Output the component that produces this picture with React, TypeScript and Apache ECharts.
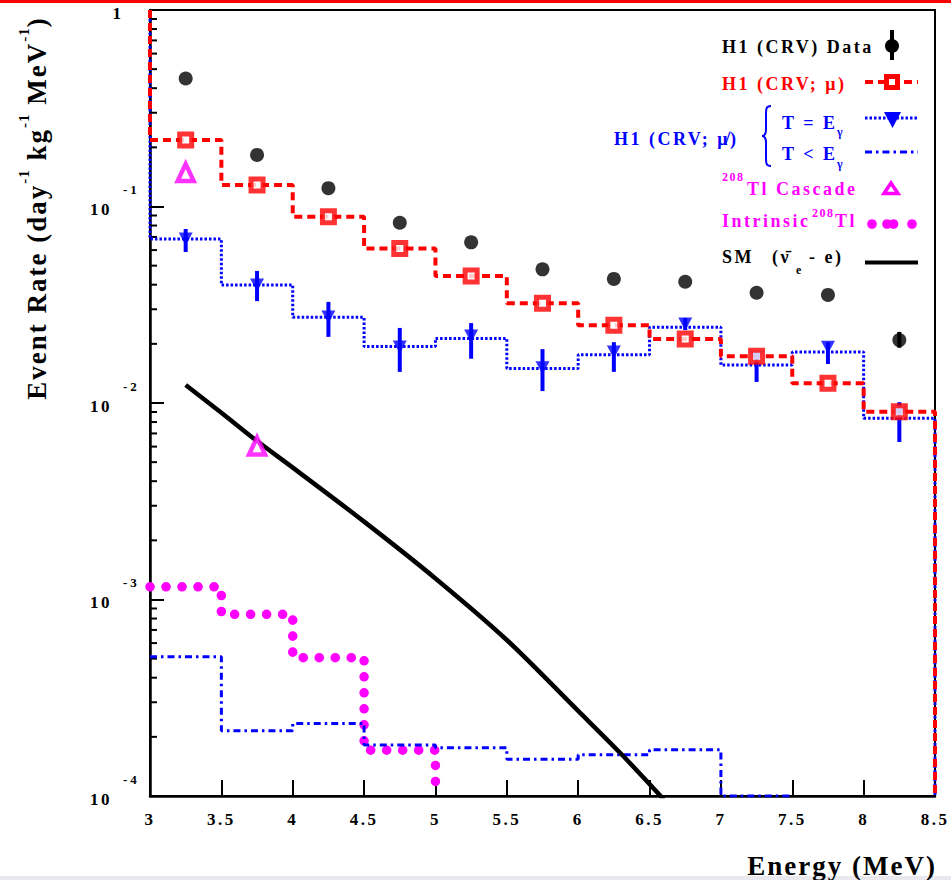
import React, { useEffect, useRef } from 'react';
import * as echarts from 'echarts';

const SERIF = '"Liberation Serif", "Times New Roman", serif';
const YMIN = 1e-4;
const YMAX = 1;

// bins (MeV)
const BIN_EDGES = [3, 3.5, 4, 4.5, 5, 5.5, 6, 6.5, 7, 7.5, 8, 8.5];
const BIN_CENTERS = [3.25, 3.75, 4.25, 4.75, 5.25, 5.75, 6.25, 6.75, 7.25, 7.75, 8.25];

// H1 (CRV) Data
const DATA_VALS = [0.448, 0.183, 0.124, 0.0827, 0.0657, 0.0479, 0.0428, 0.0414, 0.0364, 0.0355, 0.0209];
const DATA_ERR_E = [8.25];
const DATA_ERR_LO = [0.0191];
const DATA_ERR_HI = [0.0230];

// H1 (CRV; mu) histogram
const MU_VALS = [0.218, 0.1287, 0.0887, 0.0611, 0.0443, 0.0322, 0.0249, 0.0212, 0.0173, 0.0126, 0.00903];

// H1 (CRV; not-mu), T = E_gamma
const TEQ_VALS = [0.0683, 0.0399, 0.0273, 0.0194, 0.0213, 0.015, 0.0176, 0.0243, 0.0156, 0.0182, 0.00836];
const TEQ_POINTS = [0.0683, 0.0399, 0.0274, 0.0193, 0.0219, 0.0151, 0.0182, 0.0252, 0.0171, 0.0192, 0.0089];
const TEQ_LO = [0.0587, 0.033, 0.0217, 0.0144, 0.0168, 0.0115, 0.0144, 0.0235, 0.0128, 0.0158, 0.00633];
const TEQ_HI = [0.0768, 0.047, 0.0327, 0.0241, 0.0255, 0.0188, 0.0204, 0.0271, 0.0182, 0.0204, 0.0101];

// H1 (CRV; not-mu), T < E_gamma (last bin at floor)
const TLT_VALS = [5.12e-4, 2.15e-4, 2.34e-4, 1.82e-4, 1.76e-4, 1.54e-4, 1.62e-4, 1.72e-4, 1e-4];

// Intrinsic 208Tl
const TL_INTR_VALS = [1.16e-3, 8.41e-4, 5.06e-4, 1.71e-4];

// 208Tl cascade
const CASCADE_E = [3.25, 3.75];
const CASCADE_VALS = [0.149, 0.00604];

// SM (nu_e - e)
const SM_E = [3.25, 3.5, 3.75, 4.0, 4.5, 5.0, 5.5, 6.0, 6.3, 6.6];
const SM_VALS = [0.01235, 0.00892, 0.0064, 0.00469, 0.00249, 0.00128, 6.22e-4, 2.71e-4, 1.64e-4, 9.6e-5];

// minor tick multipliers and decades
const MINOR_MULT = [2, 3, 4, 5, 6, 7, 8, 9];
const DECADES = [1e-4, 1e-3, 1e-2, 1e-1];

// letter spacing per font size (px)
const LS: Record<number, number> = { 27: 2, 15: 1, 17: 2.5, 13: 3, 18: 2.5, 12: 1.5 };
function lsFor(font: string) {
  const m = /(\d+(?:\.\d+)?)px/.exec(font || '');
  if (!m) return 0;
  return LS[Math.round(parseFloat(m[1]))] || 0;
}
let mctx: CanvasRenderingContext2D | null = null;
let measureSet = false;
function setupMeasure() {
  if (measureSet) return;
  measureSet = true;
  const api = (echarts as any).setPlatformAPI;
  if (!api) return;
  api({
    measureText(text: string, font?: string) {
      if (!mctx) mctx = document.createElement('canvas').getContext('2d');
      const f = font || '12px sans-serif';
      mctx!.font = f;
      return { width: mctx!.measureText(text).width + lsFor(f) * text.length };
    },
  });
}

try {
  echarts.graphic.registerShape(
    'brace',
    (echarts.graphic as any).extendPath(
      'M9,0 C4,0 4,3 4,8 L4,23 C4,28 2,30 0,30 C2,30 4,32 4,37 L4,52 C4,57 4,60 9,60',
      {}
    )
  );
} catch (e) {
  /* ignore */
}

function stairs(vals: number[], fromTop: boolean, toFloor: boolean) {
  const pts: number[][] = [];
  if (fromTop) pts.push([BIN_EDGES[0], YMAX]);
  vals.forEach((v, i) => {
    pts.push([BIN_EDGES[i], v]);
    pts.push([BIN_EDGES[i + 1], v]);
  });
  if (toFloor) pts.push([BIN_EDGES[vals.length], YMIN]);
  return pts;
}

function errRender(color: string) {
  return (params: any, api: any) => {
    const a = api.coord([api.value(0), api.value(1)]);
    const b = api.coord([api.value(0), api.value(2)]);
    return {
      type: 'line',
      shape: { x1: a[0], y1: a[1], x2: b[0], y2: b[1] },
      style: { stroke: color, lineWidth: 4 },
    };
  };
}

const txt = (x: number, y: number, text: string, fill: string, size = 18, align = 'left') => ({
  type: 'text',
  x,
  y,
  silent: true,
  style: { text, fill, fontSize: size, fontWeight: 'bold', fontFamily: SERIF, align, verticalAlign: 'middle' },
});

const expOf = (v: number) => Math.round(Math.log10(v));

function buildOption(): any {
  const minorTicks: number[][] = [];
  DECADES.forEach((d) => MINOR_MULT.forEach((k) => minorTicks.push([BIN_EDGES[0], k * d])));

  const BLUE = '#0000ff';
  const RED = '#ff0000';
  const MAG = '#ff00ff';

  const graphic: any[] = [
    { type: 'rect', shape: { x: 0, y: 0, width: 951, height: 3 }, style: { fill: RED }, silent: true },
    { type: 'rect', shape: { x: 0, y: 876, width: 951, height: 4 }, style: { fill: '#e8e8ee' }, silent: true },
    // y title
    {
      type: 'text',
      x: 37,
      y: 208,
      rotation: Math.PI / 2,
      silent: true,
      style: {
        text: '{a|Event Rate (day}{s|-1}{a| kg}{s|-1}{a| MeV}{s|-1}{a|)}',
        align: 'center',
        verticalAlign: 'middle',
        rich: {
          a: { fontSize: 27, lineHeight: 27, fontWeight: 'bold', fontFamily: SERIF, fill: '#000' },
          s: { fontSize: 15, lineHeight: 15, fontWeight: 'bold', fontFamily: SERIF, fill: '#000', padding: [0, 0, 26, 0] },
        },
      },
    },
    // x title
    txt(937, 866, 'Energy (MeV)', '#000', 27, 'right'),
    // legend texts
    txt(722, 47, 'H1 (CRV) Data', '#000'),
    txt(722, 84, 'H1 (CRV; μ)', RED),
    txt(614, 139, 'H1 (CRV; μ̸)', BLUE),
    { type: 'brace', x: 762, y: 106, silent: true, style: { stroke: BLUE, fill: 'none', lineWidth: 2 } },
    txt(782, 122.5, 'T = E', BLUE),
    txt(837, 132, 'γ', BLUE, 12),
    txt(782, 154, 'T < E', BLUE),
    txt(837, 163.5, 'γ', BLUE, 12),
    txt(722, 177, '208', MAG, 12),
    txt(747, 188.5, 'Tl Cascade', MAG),
    txt(722, 221, 'Intrinsic', MAG),
    txt(812, 212.5, '208', MAG, 12),
    txt(835, 221, 'Tl', MAG),
    txt(722, 256.5, 'SM', '#000'),
    txt(772, 256.5, '(ν̄', '#000'),
    txt(796, 270, 'e', '#000', 12),
    txt(809, 256.5, '- e)', '#000'),
    // legend markers
    { type: 'line', shape: { x1: 892, y1: 30, x2: 892, y2: 60 }, style: { stroke: '#000', lineWidth: 4 }, silent: true },
    { type: 'circle', shape: { cx: 892, cy: 46, r: 7 }, style: { fill: '#000' }, silent: true },
    { type: 'line', shape: { x1: 865, y1: 82, x2: 918, y2: 82 }, style: { stroke: RED, lineWidth: 4, lineDash: [8, 5] }, silent: true },
    { type: 'rect', shape: { x: 886.5, y: 76.5, width: 11, height: 11 }, style: { fill: '#fff', stroke: RED, lineWidth: 5 }, silent: true },
    { type: 'line', shape: { x1: 865, y1: 118, x2: 918, y2: 118 }, style: { stroke: BLUE, lineWidth: 3, lineDash: [2.5, 2] }, silent: true },
    { type: 'polygon', shape: { points: [[884, 112], [901, 112], [892.5, 128]] }, style: { fill: BLUE }, silent: true },
    { type: 'line', shape: { x1: 865, y1: 152, x2: 918, y2: 152 }, style: { stroke: BLUE, lineWidth: 3, lineDash: [7, 4, 2.5, 4] }, silent: true },
    { type: 'polygon', shape: { points: [[891, 183], [898, 193.5], [884, 193.5]] }, style: { fill: '#fff', stroke: MAG, lineWidth: 3.5 }, silent: true },
    { type: 'circle', shape: { cx: 872, cy: 224, r: 4.8 }, style: { fill: MAG }, silent: true },
    { type: 'circle', shape: { cx: 887, cy: 224, r: 4.8 }, style: { fill: MAG }, silent: true },
    { type: 'circle', shape: { cx: 893.5, cy: 224, r: 4.8 }, style: { fill: MAG }, silent: true },
    { type: 'circle', shape: { cx: 912, cy: 224, r: 4.8 }, style: { fill: MAG }, silent: true },
    { type: 'line', shape: { x1: 865, y1: 262.5, x2: 918, y2: 262.5 }, style: { stroke: '#000', lineWidth: 4 }, silent: true },
  ];

  const yCommon = {
    type: 'log',
    logBase: 10,
    min: YMIN,
    max: YMAX,
    splitNumber: 4,
    position: 'left',
    splitLine: { show: false },
  };

  return {
    animation: false,
    backgroundColor: '#fff',
    grid: {
      left: 150,
      right: 16,
      top: 10,
      bottom: 84,
      show: true,
      containLabel: false,
      outerBoundsMode: 'none',
      borderColor: '#000',
      borderWidth: 2,
      backgroundColor: 'transparent',
    },
    xAxis: {
      type: 'value',
      min: 3,
      max: 8.5,
      interval: 0.5,
      axisLine: { show: true, onZero: false, lineStyle: { color: '#000', width: 2.5 } },
      axisTick: { show: true, inside: true, length: 16, lineStyle: { color: '#000', width: 2 } },
      splitLine: { show: false },
      axisLabel: {
        show: true,
        margin: 14,
        color: '#000',
        fontSize: 17,
        fontWeight: 'bold',
        fontFamily: SERIF,
        showMinLabel: true,
        showMaxLabel: true,
      },
    },
    yAxis: [
      {
        ...yCommon,
        axisLine: { show: true, onZero: false, lineStyle: { color: '#000', width: 2.5 } },
        axisTick: { show: true, inside: true, length: 14, lineStyle: { color: '#000', width: 2 } },
        axisLabel: {
          show: true,
          margin: 49,
          align: 'center',
          verticalAlign: 'middle',
          showMinLabel: true,
          showMaxLabel: true,
          formatter: (v: number) => (expOf(v) === 0 ? '{c|1}' : '{b|10}'),
          rich: {
            b: { fontSize: 17, lineHeight: 17, fontWeight: 'bold', fontFamily: SERIF, color: '#000', padding: [6, 0, 0, 0] },
            c: { fontSize: 17, lineHeight: 17, fontWeight: 'bold', fontFamily: SERIF, color: '#000', padding: [6, 0, 0, 34] },
          },
        },
      },
      {
        ...yCommon,
        axisLine: { show: false },
        axisTick: { show: false },
        axisLabel: {
          show: true,
          margin: 27,
          align: 'left',
          verticalAlign: 'middle',
          showMinLabel: true,
          showMaxLabel: true,
          formatter: (v: number) => (expOf(v) === 0 ? '' : `{s|${expOf(v)}}`),
          rich: {
            s: { fontSize: 13, lineHeight: 13, fontWeight: 'bold', fontFamily: SERIF, color: '#000', padding: [0, 0, 34, 0] },
          },
        },
      },
    ],
    graphic,
    series: [
      {
        type: 'custom',
        name: 'minorTicks',
        silent: true,
        clip: false,
        renderItem: (params: any, api: any) => {
          const p = api.coord([api.value(0), api.value(1)]);
          return {
            type: 'line',
            shape: { x1: p[0], y1: p[1], x2: p[0] + 7, y2: p[1] },
            style: { stroke: '#000', lineWidth: 2 },
          };
        },
        data: minorTicks,
        z: 1,
      },
      {
        type: 'line',
        name: 'Intrinsic 208Tl',
        data: stairs(TL_INTR_VALS, false, true),
        symbol: 'none',
        silent: true,
        clip: true,
        lineStyle: { color: MAG, width: 9.5, type: [0.1, 15.9], cap: 'round' },
      },
      {
        type: 'line',
        name: 'T < Eγ',
        data: stairs(TLT_VALS, false, false),
        symbol: 'none',
        silent: true,
        clip: true,
        lineStyle: { color: BLUE, width: 3, type: [7, 4, 2.5, 4] },
      },
      {
        type: 'line',
        name: 'T = Eγ',
        data: stairs(TEQ_VALS, true, true),
        symbol: 'none',
        silent: true,
        clip: true,
        lineStyle: { color: BLUE, width: 3, type: [2.5, 2] },
      },
      {
        type: 'line',
        name: 'H1 (CRV; μ)',
        data: stairs(MU_VALS, true, true),
        symbol: 'none',
        silent: true,
        clip: true,
        lineStyle: { color: RED, width: 4, type: [8, 5] },
      },
      {
        type: 'line',
        name: 'SM',
        data: SM_E.map((e, i) => [e, SM_VALS[i]]),
        symbol: 'none',
        smooth: 0.3,
        silent: true,
        clip: true,
        lineStyle: { color: '#000', width: 4.5 },
      },
      {
        type: 'custom',
        name: 'teqErr',
        silent: true,
        renderItem: errRender(BLUE),
        encode: { x: 0, y: [1, 2] },
        data: BIN_CENTERS.map((c, i) => [c, TEQ_LO[i], TEQ_HI[i]]),
        z: 3,
      },
      {
        type: 'custom',
        name: 'dataErr',
        silent: true,
        renderItem: errRender('#000'),
        encode: { x: 0, y: [1, 2] },
        data: DATA_ERR_E.map((c, i) => [c, DATA_ERR_LO[i], DATA_ERR_HI[i]]),
        z: 3,
      },
      {
        type: 'scatter',
        name: 'T = Eγ points',
        data: BIN_CENTERS.map((c, i) => [c, TEQ_POINTS[i]]),
        symbol: 'triangle',
        symbolRotate: 180,
        symbolSize: [14, 13],
        silent: true,
        itemStyle: { color: BLUE },
        z: 4,
      },
      {
        type: 'scatter',
        name: 'μ points',
        data: BIN_CENTERS.map((c, i) => [c, MU_VALS[i]]),
        symbol: 'rect',
        symbolSize: 12,
        silent: true,
        itemStyle: { color: '#fff', borderColor: RED, borderWidth: 5 },
        z: 4,
      },
      {
        type: 'scatter',
        name: 'Data',
        data: BIN_CENTERS.map((c, i) => [c, DATA_VALS[i]]),
        symbol: 'circle',
        symbolSize: 14,
        silent: true,
        itemStyle: { color: '#000' },
        z: 4,
      },
      {
        type: 'scatter',
        name: '208Tl Cascade',
        data: CASCADE_E.map((c, i) => [c, CASCADE_VALS[i]]),
        symbol: 'triangle',
        symbolSize: [16, 17],
        silent: true,
        itemStyle: { color: '#fff', borderColor: MAG, borderWidth: 4.5 },
        z: 4,
      },
    ],
  };
}

export default function App() {
  const ref = useRef<HTMLDivElement>(null);
  useEffect(() => {
    setupMeasure();
    const el = ref.current!;
    const chart = echarts.init(el, undefined, { renderer: 'svg' });
    chart.setOption(buildOption());
    const apply = () => {
      el.querySelectorAll('text').forEach((t) => {
        const s = t.getAttribute('style') || '';
        const ls = lsFor(s);
        if (ls) (t as SVGTextElement).style.letterSpacing = ls + 'px';
      });
    };
    chart.on('rendered', apply);
    apply();
    return () => {
      chart.dispose();
    };
  }, []);
  return <div ref={ref} style={{ position: 'absolute', left: 0, top: 0, width: 951, height: 880 }} />;
}
